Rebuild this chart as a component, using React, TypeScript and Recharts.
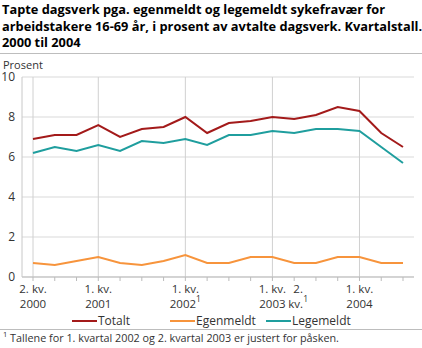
import React from 'react'
import { LineChart, Line, XAxis, YAxis, CartesianGrid, ReferenceLine } from 'recharts'

const quarters = [
  '2000K2', '2000K3', '2000K4',
  '2001K1', '2001K2', '2001K3', '2001K4',
  '2002K1', '2002K2', '2002K3', '2002K4',
  '2003K1', '2003K2', '2003K3', '2003K4',
  '2004K1', '2004K2', '2004K3',
]
const totalt = [6.9, 7.1, 7.1, 7.6, 7.0, 7.4, 7.5, 8.0, 7.2, 7.7, 7.8, 8.0, 7.9, 8.1, 8.5, 8.3, 7.2, 6.5]
const egenmeldt = [0.7, 0.6, 0.8, 1.0, 0.7, 0.6, 0.8, 1.1, 0.7, 0.7, 1.0, 1.0, 0.7, 0.7, 1.0, 1.0, 0.7, 0.7]
const legemeldt = [6.2, 6.5, 6.3, 6.6, 6.3, 6.8, 6.7, 6.9, 6.6, 7.1, 7.1, 7.3, 7.2, 7.4, 7.4, 7.3, 6.5, 5.7]

// [first line, second line, superscript]
const tickLabels: Record<string, [string, string, string]> = {
  '2000K2': ['2. kv.', '2000', ''],
  '2001K1': ['1. kv.', '2001', ''],
  '2002K1': ['1. kv.', '2002', '1'],
  '2003K1': ['1. kv.', '2003', ''],
  '2003K2': ['2.', 'kv.', '1'],
  '2004K1': ['1. kv.', '2004', ''],
}
const gridQuarters = ['2000K2', '2001K1', '2002K1', '2003K1', '2004K1']
const yTicks = [0, 2, 4, 6, 8, 10]

const RED = '#a31a1a'
const ORANGE = '#f7943c'
const TEAL = '#1f9e9e'
const FONT = '"Open Sans", sans-serif'

const data = quarters.map((q, i) => ({ q, totalt: totalt[i], egenmeldt: egenmeldt[i], legemeldt: legemeldt[i] }))

function QuarterTick({ x, y, payload }: any) {
  const lbl = tickLabels[payload.value]
  if (!lbl) return null
  const cx = payload.value === '2003K2' ? x + 4 : x
  return (
    <text x={cx} y={y} textAnchor="middle" fontSize={11.5} fill="#333" fontFamily={FONT}>
      <tspan x={cx} dy={12}>{lbl[0]}</tspan>
      <tspan x={cx} dy={15}>{lbl[1]}</tspan>
      {lbl[2] && <tspan dy={-6} fontSize={8.5}>{lbl[2]}</tspan>}
    </text>
  )
}

const legendItems = [
  { name: 'Totalt', color: RED, left: 72 },
  { name: 'Egenmeldt', color: ORANGE, left: 170 },
  { name: 'Legemeldt', color: TEAL, left: 266 },
]

export default function App() {
  return (
    <div style={{ position: 'absolute', left: 0, top: 0, width: 422, height: 348, background: '#fff', fontFamily: FONT, color: '#000', overflow: 'hidden' }}>
      <div style={{ position: 'absolute', left: 2, top: 1, fontSize: 12.8, fontWeight: 700, lineHeight: '16.5px', whiteSpace: 'nowrap' }}>
        Tapte dagsverk pga. egenmeldt og legemeldt sykefravær for<br />
        arbeidstakere 16-69 år, i prosent av avtalte dagsverk. Kvartalstall.<br />
        2000 til 2004
      </div>
      <div style={{ position: 'absolute', left: 0, top: 53, width: 422, height: 1, background: '#bdbdbd' }} />
      <div style={{ position: 'absolute', left: 3, top: 57, fontSize: 11, color: '#333', lineHeight: '15px' }}>Prosent</div>

      <div style={{ position: 'absolute', left: 0, top: 0 }}>
        <LineChart width={422} height={348} data={data} margin={{ top: 77, right: 8, left: 0, bottom: 41 }}>
          <CartesianGrid vertical={false} stroke="#d9d9d9" />
          {gridQuarters.map((q) => (
            <ReferenceLine key={q} x={q} stroke="#d0d0d0" />
          ))}
          <XAxis
            dataKey="q"
            height={30}
            interval={0}
            padding={{ left: 11, right: 11 }}
            stroke="#bbb"
            tickSize={4}
            tickMargin={0}
            tick={<QuarterTick />}
          />
          <YAxis
            width={22}
            domain={[0, 10]}
            ticks={yTicks}
            tickLine={false}
            tickSize={5}
            tickMargin={2}
            axisLine={{ stroke: '#c8c8c8' }}
            tick={{ fontSize: 12, fill: '#333', fontFamily: FONT }}
          />
          <Line dataKey="totalt" stroke={RED} strokeWidth={2} dot={false} isAnimationActive={false} />
          <Line dataKey="egenmeldt" stroke={ORANGE} strokeWidth={2} dot={false} isAnimationActive={false} />
          <Line dataKey="legemeldt" stroke={TEAL} strokeWidth={2} dot={false} isAnimationActive={false} />
        </LineChart>
      </div>

      {legendItems.map((it) => (
        <div key={it.name} style={{ position: 'absolute', left: it.left, top: 312, display: 'flex', alignItems: 'center', fontSize: 12, color: '#333', lineHeight: '18px' }}>
          <div style={{ width: 25, height: 2.5, background: it.color, marginRight: 1 }} />
          <span>{it.name}</span>
        </div>
      ))}
      <div style={{ position: 'absolute', left: 0, top: 329, width: 422, height: 1, background: '#bdbdbd' }} />
      <div style={{ position: 'absolute', left: 3, top: 330, fontSize: 10.8, color: '#333', whiteSpace: 'nowrap', lineHeight: '15px' }}>
        <sup style={{ fontSize: 7.5, lineHeight: 0 }}>1</sup> Tallene for 1. kvartal 2002 og 2. kvartal 2003 er justert for påsken.
      </div>
    </div>
  )
}
